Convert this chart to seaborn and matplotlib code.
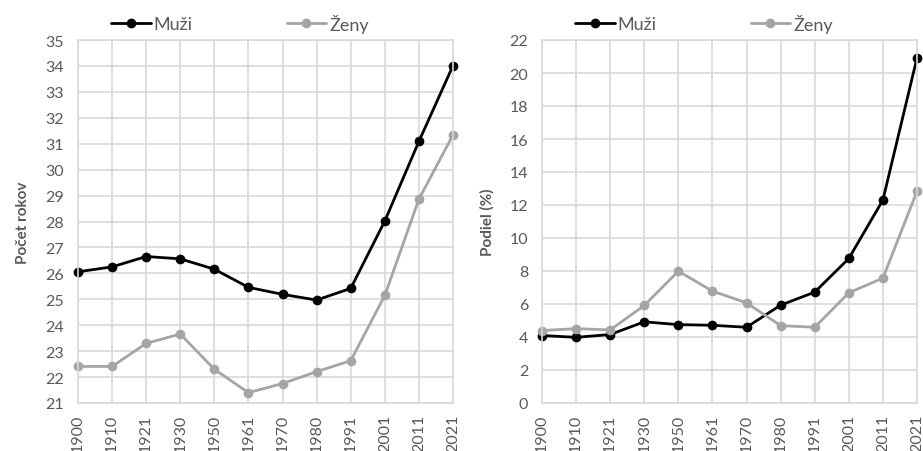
import pandas as pd
import matplotlib
matplotlib.use("Agg")
import matplotlib.pyplot as plt
import seaborn as sns

# Census years (categorical axis)
years = ["1900", "1910", "1921", "1930", "1950", "1961", "1970",
         "1980", "1991", "2001", "2011", "2021"]

# Left panel - average age (Počet rokov)
vek_muzi = [26.06, 26.25, 26.65, 26.56, 26.16, 25.46, 25.19, 24.97, 25.42, 28.02, 31.09, 34.01]
vek_zeny = [22.41, 22.41, 23.30, 23.66, 22.30, 21.40, 21.75, 22.21, 22.63, 25.15, 28.86, 31.34]

# Right panel - share in percent (Podiel %)
podiel_muzi = [4.09, 3.98, 4.15, 4.92, 4.75, 4.71, 4.59, 5.93, 6.72, 8.76, 12.30, 20.92]
podiel_zeny = [4.39, 4.51, 4.43, 5.91, 7.99, 6.78, 6.07, 4.69, 4.59, 6.68, 7.57, 12.83]

sns.set_style("white")
plt.rcParams['font.family'] = ['Lato', 'DejaVu Sans']

text_col = "#595959"
grid_col = "#d9d9d9"
palette = {"Muži": "black", "Ženy": "#a5a5a5"}


def long_df(muzi, zeny):
    df = pd.DataFrame({"rok": years, "Muži": muzi, "Ženy": zeny})
    return df.melt(id_vars="rok", var_name="pohlavie", value_name="hodnota")


fig = plt.figure(figsize=(9.23, 4.52), dpi=100)
ax1 = fig.add_axes([78 / 923, 1 - 404 / 452, 375 / 923, 363 / 452])
ax2 = fig.add_axes([542 / 923, 1 - 404 / 452, 375 / 923, 363 / 452])

panels = [
    (ax1, long_df(vek_muzi, vek_zeny), (21, 35), range(21, 36), "Počet rokov", 240),
    (ax2, long_df(podiel_muzi, podiel_zeny), (0, 22), range(0, 23, 2), "Podiel (%)", 704),
]

for ax, df, ylim, yticks, ylabel, leg_x in panels:
    sns.lineplot(data=df, x="rok", y="hodnota", hue="pohlavie", palette=palette,
                 marker="o", markersize=7, markeredgewidth=0, linewidth=2,
                 sort=False, ax=ax, clip_on=False)
    ax.set_xlim(0, len(years) - 1)
    ax.set_ylim(*ylim)
    ax.set_yticks(list(yticks))
    ax.grid(True, color=grid_col, linewidth=1.2)
    ax.set_axisbelow(True)
    for s in ax.spines.values():
        s.set_color(grid_col)
        s.set_linewidth(1.2)
    ax.tick_params(axis="both", length=0, labelsize=11.5, colors=text_col, pad=10)
    ax.tick_params(axis="x", rotation=90, pad=8)
    ax.set_xlabel("")
    ax.set_ylabel(ylabel, fontsize=11, fontweight="bold", color=text_col, labelpad=11)
    ax.get_legend().remove()
    handles, labels = ax.get_legend_handles_labels()
    leg = fig.legend(handles, labels, loc="center",
                     bbox_to_anchor=(leg_x / 923, 1 - 24 / 452),
                     bbox_transform=fig.transFigure,
                     ncol=2, frameon=False, fontsize=13, handlelength=2.2,
                     handletextpad=0.15, columnspacing=5.2)
    for t in leg.get_texts():
        t.set_color(text_col)

fig.savefig("out.png", dpi=100)
